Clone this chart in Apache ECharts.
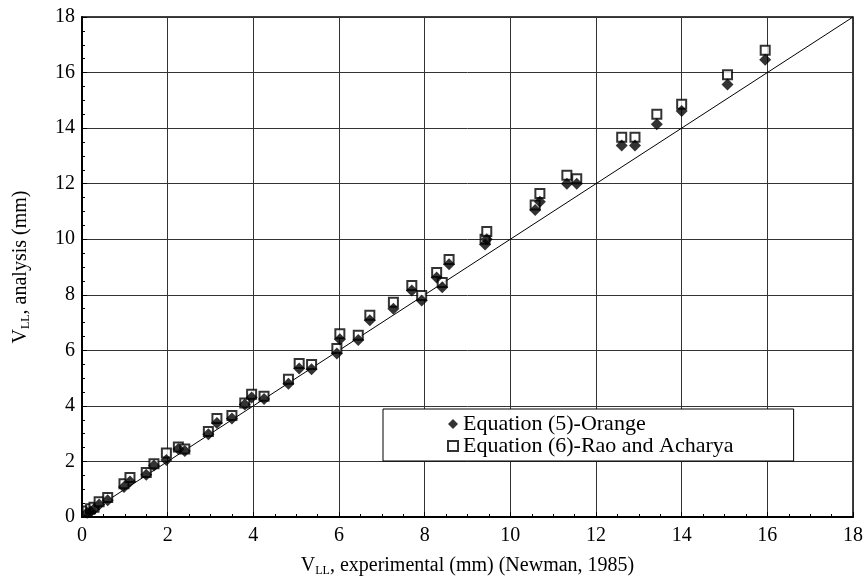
<!DOCTYPE html>
<html>
<head>
<meta charset="utf-8">
<script src="https://cdn.jsdelivr.net/npm/echarts@6/dist/echarts.min.js"></script>
<style>html,body{margin:0;padding:0;background:#fff}#c{width:866px;height:582px}</style>
</head>
<body>
<div id="c"></div>
<script>
// Experimental V_LL (mm)
const xExp = [0.12,0.2,0.28,0.4,0.6,0.98,1.12,1.5,1.68,1.97,2.25,2.4,2.95,3.15,3.5,3.8,3.96,4.25,4.82,5.07,5.36,5.95,6.02,6.45,6.72,7.27,7.7,7.93,8.28,8.41,8.57,9.41,9.45,10.58,10.69,11.32,11.55,12.6,12.91,13.42,14.0,15.07,15.95];
// Equation (5)-Orange
const yOrange = [0.15,0.2,0.28,0.45,0.6,1.08,1.28,1.52,1.85,2.05,2.45,2.38,2.98,3.38,3.55,4.05,4.3,4.25,4.8,5.35,5.32,5.89,6.4,6.37,7.08,7.5,8.15,7.79,8.62,8.27,9.1,9.81,10.0,11.05,11.35,12.0,12.0,13.37,13.37,14.14,14.62,15.57,16.46];
// Equation (6)-Rao and Acharya
const yRao = [0.22,0.3,0.35,0.55,0.7,1.2,1.42,1.6,1.92,2.3,2.52,2.45,3.08,3.55,3.65,4.1,4.42,4.35,4.96,5.53,5.49,6.07,6.6,6.54,7.26,7.73,8.33,7.97,8.8,8.44,9.27,10.0,10.28,11.23,11.65,12.3,12.18,13.67,13.67,14.5,14.86,15.92,16.8];
// Line of equality
const lineX = [0, 18];
const lineY = [0, 18];
const axisTicks = [0,2,4,6,8,10,12,14,16,18];
const seriesNames = ['Equation (5)-Orange', 'Equation (6)-Rao and Acharya'];

const font = 'Liberation Serif, Times New Roman, serif';
const pair = (xs, ys) => xs.map((x, i) => [x, ys[i]]);

const chart = echarts.init(document.getElementById('c'), null, {renderer: 'canvas'});
const axisCommon = {
  min: axisTicks[0], max: axisTicks[axisTicks.length-1], interval: 2,
  axisLine: {show: true, lineStyle: {color: '#000', width: 2}},
  axisTick: {show: true, inside: true, length: 5, lineStyle: {color: '#000'}},
  minorTick: {show: true, splitNumber: 4, length: 3, lineStyle: {color: '#000'}},
  splitLine: {show: true, lineStyle: {color: '#333', width: 1}},
  axisLabel: {color: '#000', fontSize: 20, fontFamily: font},
  nameTextStyle: {color: '#000', fontSize: 20, fontFamily: font,
    rich: {sub: {fontSize: 12, fontFamily: font, color: '#000', verticalAlign: 'bottom', padding: [10,0,0,0]}}}
};
chart.setOption({
  animation: false,
  backgroundColor: '#fff',
  textStyle: {fontFamily: font},
  grid: {left: 82, right: 12, top: 17, bottom: 60, show: true, borderColor: '#000', borderWidth: 1.5, backgroundColor: 'transparent'},
  xAxis: Object.assign({}, axisCommon, {
    type: 'value',
    name: 'V{sub|LL}, experimental (mm) (Newman, 1985)',
    nameLocation: 'middle', nameGap: 38,
    axisLabel: Object.assign({}, axisCommon.axisLabel, {margin: 9})
  }),
  yAxis: Object.assign({}, axisCommon, {
    type: 'value',
    name: 'V{sub|LL}, analysis (mm)',
    nameLocation: 'middle', nameGap: 50, nameRotate: 90,
    axisLabel: Object.assign({}, axisCommon.axisLabel, {margin: 7})
  }),
  legend: {
    show: true, orient: 'vertical', left: 383, top: 409,
    data: seriesNames,
    backgroundColor: '#fff', borderColor: '#000', borderWidth: 1,
    padding: [4, 60, 4, 64], itemGap: 0, itemWidth: 10, itemHeight: 10,
    textStyle: {color: '#000', fontSize: 22, fontFamily: font}
  },
  series: [
    {
      name: 'line', type: 'line', data: pair(lineX, lineY), symbol: 'none',
      lineStyle: {color: '#000', width: 1}, silent: true, z: 1
    },
    {
      name: seriesNames[1], type: 'scatter', data: pair(xExp, yRao),
      symbol: 'rect', symbolSize: 9,
      itemStyle: {color: '#fff', borderColor: '#000', borderWidth: 2}, z: 3
    },
    {
      name: seriesNames[0], type: 'scatter', data: pair(xExp, yOrange),
      symbol: 'diamond', symbolSize: 12,
      itemStyle: {color: '#000'}, z: 4
    }
  ]
});
</script>
</body>
</html>
